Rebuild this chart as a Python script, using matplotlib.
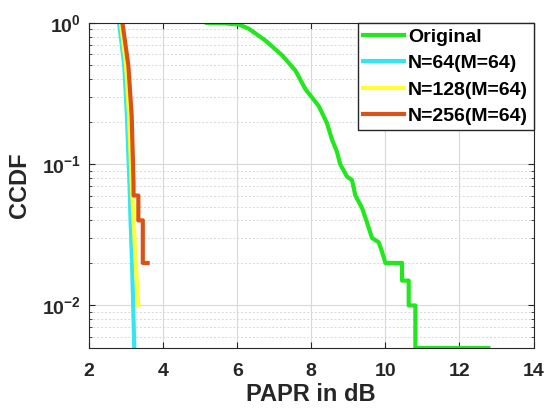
import matplotlib.pyplot as plt
from matplotlib.ticker import LogLocator, NullFormatter

plt.rcParams['font.family'] = ['Liberation Sans', 'DejaVu Sans']
plt.rcParams['font.weight'] = 'bold'
plt.rcParams['mathtext.fontset'] = 'custom'
plt.rcParams['mathtext.rm'] = 'Liberation Sans:bold'
plt.rcParams['mathtext.bf'] = 'Liberation Sans:bold'
plt.rcParams['mathtext.it'] = 'Liberation Sans:bold'

# (PAPR in dB, CCDF)
orig_x = [5.18, 5.6, 6.04, 6.31, 6.76, 7.21, 7.57, 7.84, 8.2, 8.42, 8.56, 8.69, 8.78,
          8.96, 9.1, 9.19, 9.37, 9.5, 9.64, 9.82, 9.91, 10.0, 10.45, 10.45, 10.63,
          10.63, 10.81, 10.81, 12.78]
orig_y = [1.0, 0.995, 0.974, 0.91, 0.75, 0.59, 0.46, 0.34, 0.258, 0.196, 0.149, 0.123, 0.1,
          0.082, 0.077, 0.06, 0.049, 0.039, 0.03, 0.028, 0.024, 0.02, 0.02, 0.015, 0.015,
          0.01, 0.01, 0.005, 0.005]

n64_x = [2.81, 2.95, 3.02, 3.09, 3.12, 3.16, 3.19, 3.22]
n64_y = [1.0, 0.5, 0.22, 0.073, 0.04, 0.02, 0.01, 0.005]

n128_x = [2.86, 3.0, 3.08, 3.15, 3.2, 3.26, 3.3, 3.33]
n128_y = [1.0, 0.5, 0.22, 0.073, 0.04, 0.02, 0.013, 0.01]

n256_x = [2.9, 3.06, 3.15, 3.2, 3.2, 3.33, 3.33, 3.45, 3.45, 3.58]
n256_y = [1.0, 0.5, 0.22, 0.073, 0.06, 0.06, 0.04, 0.04, 0.02, 0.02]

labels = ['Original', 'N=64(M=64)', 'N=128(M=64)', 'N=256(M=64)']
colors = ['#22e61e', '#33e6f0', '#ffff33', '#d95319']

fig = plt.figure(figsize=(5.5, 4.08), dpi=100)
ax = fig.add_axes([0.162, 0.147, 0.808, 0.797])

ax.plot(orig_x, orig_y, color=colors[0], lw=3, label=labels[0])
ax.plot(n64_x, n64_y, color=colors[1], lw=3, label=labels[1])
ax.plot(n128_x, n128_y, color=colors[2], lw=3, label=labels[2])
ax.plot(n256_x, n256_y, color=colors[3], lw=3, label=labels[3])

ax.set_yscale('log')
ax.set_xlim(2, 14)
ax.set_ylim(0.005, 1)
ax.set_xticks([2, 4, 6, 8, 10, 12, 14])
ax.yaxis.set_major_locator(LogLocator(base=10, numticks=10))
ax.yaxis.set_minor_locator(LogLocator(base=10, subs=range(2, 10), numticks=10))
ax.yaxis.set_minor_formatter(NullFormatter())

ax.grid(True, which='major', color='#d8d8d8', lw=0.8)
ax.grid(True, which='minor', axis='y', color='#d8d8d8', lw=0.7, ls=(0, (2, 2)))
ax.set_axisbelow(True)

ax.tick_params(which='both', direction='in', top=True, right=True, colors='#262626')
ax.tick_params(which='major', length=4, labelsize=14)
ax.tick_params(axis='x', which='major', pad=11)
ax.tick_params(axis='y', which='major', pad=6)
ax.tick_params(which='minor', length=2)
for s in ax.spines.values():
    s.set_color('#262626')

ax.set_xlabel('PAPR in dB', fontsize=17, fontweight='bold', color='#262626', labelpad=2)
ax.set_ylabel('CCDF', fontsize=17, fontweight='bold', color='#262626', labelpad=8)

leg = ax.legend(loc='upper right', borderaxespad=0, fancybox=False, framealpha=1,
                prop={'weight': 'bold', 'size': 14}, handlelength=2.1,
                handletextpad=0.2, labelspacing=0.45, borderpad=0.28)
leg.get_frame().set_edgecolor('#262626')
leg.get_frame().set_linewidth(1)

fig.savefig('out.png', dpi=100)
